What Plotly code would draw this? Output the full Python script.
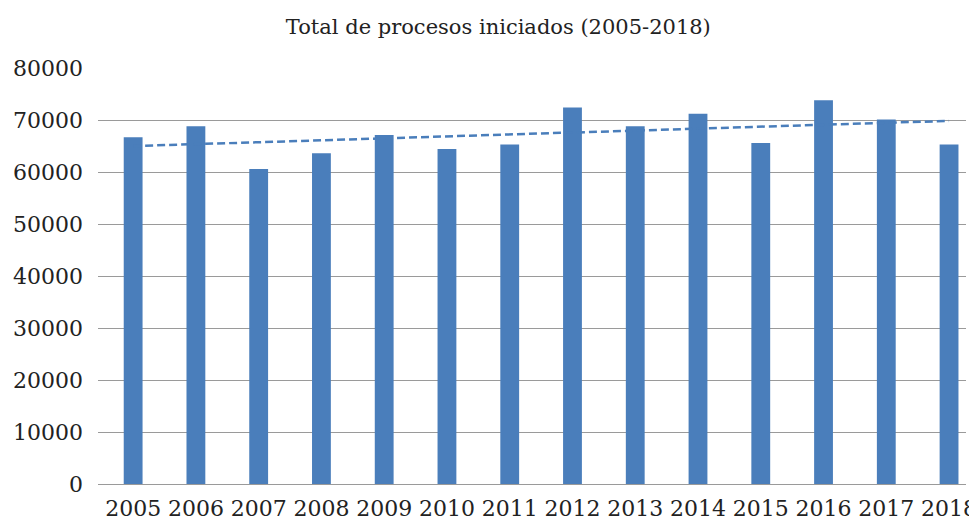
import numpy as np
import plotly.graph_objects as go

years = ["2005", "2006", "2007", "2008", "2009", "2010", "2011",
         "2012", "2013", "2014", "2015", "2016", "2017", "2018"]
procesos = [66700, 68800, 60600, 63600, 67100, 64400, 65300,
            72400, 68800, 71200, 65600, 73800, 70100, 65300]
y_ticks = [0, 10000, 20000, 30000, 40000, 50000, 60000, 70000, 80000]
title_text = "Total de procesos iniciados (2005-2018)"

idx = np.arange(len(years))
coef = np.polyfit(idx, procesos, 1)
trend = np.polyval(coef, idx)

BLUE = "#4A7EBB"
FONT = "DejaVu Serif"

fig = go.Figure()
fig.add_trace(go.Bar(x=idx, y=procesos, marker=dict(color=BLUE, line=dict(width=0)),
                     showlegend=False))
fig.add_trace(go.Scatter(x=idx, y=trend, mode="lines",
                         line=dict(color=BLUE, width=2.5, dash="8px,4px"),
                         showlegend=False))

fig.update_layout(
    width=969, height=515,
    margin=dict(l=90, r=0, t=60, b=39),
    paper_bgcolor="white", plot_bgcolor="white",
    bargap=0.70,
    title=dict(text=title_text, x=0.506, xanchor="center", xref="container",
               y=0.963, yanchor="middle", yref="container",
               font=dict(family=FONT, size=21, color="#222222")),
    font=dict(family=FONT, color="#222222"),
)
fig.update_xaxes(
    tickmode="array", tickvals=list(idx), ticktext=years,
    range=[-0.56, 13.27],
    showgrid=False, showline=False, zeroline=False,
    ticks="", tickfont=dict(family=FONT, size=22, color="#222222"),
    ticklabelstandoff=9, ticklabeloverflow="allow",
)
fig.update_yaxes(
    range=[0, 80000], tickmode="array", tickvals=y_ticks,
    ticktext=[str(v) for v in y_ticks],
    showgrid=True, gridcolor="#9a9a9a", gridwidth=1.3,
    zeroline=True, zerolinecolor="#9a9a9a", zerolinewidth=1.3,
    showline=False, ticks="",
    tickfont=dict(family=FONT, size=22, color="#222222"),
    ticklabelstandoff=14,
)

fig.write_html("out.html")
